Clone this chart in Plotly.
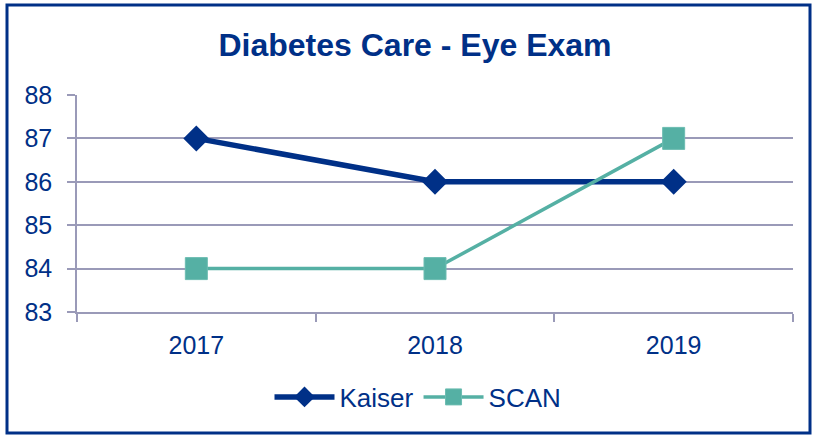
import plotly.graph_objects as go

# ─── data ───
years = ['2017', '2018', '2019']
kaiser = [87, 86, 86]
scan = [84, 84, 87]

NAVY = '#003087'
TEAL = '#55b0a4'
GRID = '#9a9ab8'

W, H = 815, 437
L, R, T, B = 77, 22, 95, 125

fig = go.Figure()
fig.add_trace(go.Scatter(
    x=years, y=kaiser, mode='lines+markers', name='Kaiser',
    line=dict(color=NAVY, width=5.5),
    marker=dict(symbol='diamond', size=20, color=NAVY),
))
fig.add_trace(go.Scatter(
    x=years, y=scan, mode='lines+markers', name='SCAN',
    line=dict(color=TEAL, width=3.5),
    marker=dict(symbol='square', size=22, color=TEAL,
                line=dict(color='#6cbcb1', width=1)),
))

# 外框（以 paper 坐标换算像素）
pw, ph = W - L - R, H - T - B
def px(x): return (x - L) / pw
def py(y): return (H - B - y) / ph

fig.add_shape(type='rect', xref='paper', yref='paper',
              x0=px(7), x1=px(810), y0=py(433), y1=py(5),
              line=dict(color=NAVY, width=3), fillcolor='rgba(0,0,0,0)',
              layer='below')

fig.update_layout(
    width=W, height=H,
    margin=dict(l=L, r=R, t=T, b=B),
    paper_bgcolor='white', plot_bgcolor='white',
    font=dict(family='Liberation Sans, Arial', color=NAVY, size=25),
    title=dict(text='<b>Diabetes Care - Eye Exam</b>', x=415 / W,
               xanchor='center', y=1 - 45 / H, yanchor='middle',
               font=dict(size=32, color=NAVY)),
    showlegend=True,
    legend=dict(orientation='h', x=px(418), xanchor='center',
                y=py(397), yanchor='middle', font=dict(size=26),
                itemwidth=60),
    xaxis=dict(type='category', range=[-0.5, 2.5], showgrid=False,
               showline=True, linecolor=GRID, linewidth=1.5,
               ticks='outside', tickson='boundaries', ticklen=8,
               tickcolor=GRID, tickwidth=1.5, ticklabelstandoff=10,
               tickfont=dict(size=25, color=NAVY)),
    yaxis=dict(range=[83, 88], dtick=1, showgrid=True, gridcolor=GRID,
               gridwidth=1.5, showline=True, linecolor=GRID, linewidth=1.5,
               ticks='outside', ticklen=8, tickcolor=GRID, tickwidth=1.5,
               ticklabelstandoff=10, zeroline=False,
               tickfont=dict(size=25, color=NAVY)),
)

fig.write_html("out.html", config=dict(displayModeBar=False),
               post_script="document.body.style.margin='0';")
